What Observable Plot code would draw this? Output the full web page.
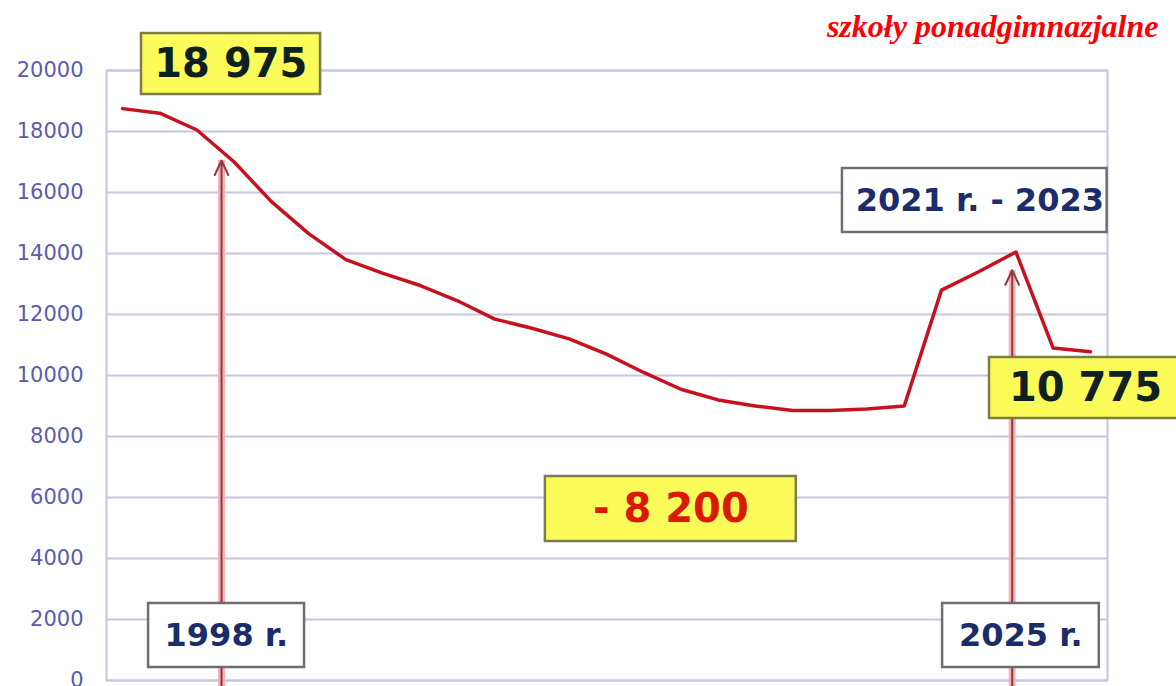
<!DOCTYPE html>
<html><head><meta charset="utf-8">
<script src="https://cdn.jsdelivr.net/npm/d3@7"></script>
<script src="https://cdn.jsdelivr.net/npm/@observablehq/plot@0.6"></script>
<style>body{margin:0;background:#fff;}</style>
</head><body><div id="chart"></div>
<script>
// ---- data ----
const years = [1998,1999,2000,2001,2002,2003,2004,2005,2006,2007,2008,2009,2010,2011,2012,2013,2014,2015,2016,2017,2018,2019,2020,2021,2022,2023,2024];
const values = [18750,18600,18050,17000,15700,14650,13800,13350,12950,12450,11850,11550,11200,10700,10100,9550,9200,9000,8850,8850,8900,9000,12800,13400,14050,10900,10775];
const yTicks = [0,2000,4000,6000,8000,10000,12000,14000,16000,18000,20000];
const title = "szkoły ponadgimnazjalne";

// annotation boxes (data coordinates: year, value)
const boxLabels = ["18 975", "- 8 200", "10 775", "2021 r. - 2023", "1998 r.", "2025 r."];
const boxKind   = ["yellow", "yellowRed", "yellow", "white", "white", "white"];
const boxX1 = [1998.51, 2009.36, 2021.29, 2017.34, 1998.70, 2020.03];
const boxX2 = [2003.32, 2016.10, 2026.44, 2024.45, 2002.89, 2024.24];
const boxY1 = [19213, 4557, 8590, 14689, 426, 426];
const boxY2 = [21213, 6689, 10590, 16787, 2525, 2525];
const textX = [2000.91, 2012.73, 2023.87, 2021.03, 2000.79, 2022.13];
const textY = [20213, 5623, 9590, 15738, 1475, 1475];

// arrows
const arrowX = [2000.66, 2021.90];
const arrowBase = [-300, -300];
const arrowTip = [17050, 13450];

// ---- chart ----
const idx = boxLabels.map((_, i) => i);
const isKind = k => i => boxKind[i] === k;
const yellowIdx = idx.filter(i => boxKind[i] !== "white");
const whiteIdx = idx.filter(isKind("white"));
const arrowIdx = arrowX.map((_, i) => i);

const chart = Plot.plot({
  width: 1176,
  height: 686,
  marginLeft: 106,
  marginRight: 69,
  marginTop: 70,
  marginBottom: 6,
  style: {background: "#fff", fontFamily: "DejaVu Sans"},
  x: {domain: [1997.57, 2024.46], axis: null},
  y: {domain: [0, 20000], axis: null},
  marks: [
    Plot.gridY(yTicks, {stroke: "#c6c6df", strokeOpacity: 1, strokeWidth: 2}),
    Plot.frame({stroke: "#c6c6df", strokeWidth: 2}),
    Plot.axisY(yTicks, {tickSize: 0, tickPadding: 23, fontSize: 21, color: "#5c5cae", tickFormat: d3.format("d"), fontFamily: "DejaVu Sans"}),
    // arrows: pink halo + dark core
    Plot.ruleX(arrowIdx, {x: i => arrowX[i], y1: i => arrowBase[i], y2: i => arrowTip[i], stroke: "#f6b0b6", strokeWidth: 7}),
    Plot.arrow(arrowIdx, {x1: i => arrowX[i], x2: i => arrowX[i], y1: i => arrowBase[i], y2: i => arrowTip[i], stroke: "#8e3b3e", strokeWidth: 2, headLength: 12, headAngle: 50}),
    // main line
    Plot.line(values, {x: years, y: values, stroke: "#c4121f", strokeWidth: 3.5}),
    // boxes
    Plot.rect(yellowIdx, {x1: i => boxX1[i], x2: i => boxX2[i], y1: i => boxY1[i], y2: i => boxY2[i], fill: "#fbfb5a", stroke: "#7d7d4c", strokeWidth: 2.5}),
    Plot.rect(whiteIdx, {x1: i => boxX1[i], x2: i => boxX2[i], y1: i => boxY1[i], y2: i => boxY2[i], fill: "#ffffff", stroke: "#6e6e6e", strokeWidth: 2.5}),
    Plot.text(idx.filter(isKind("yellow")), {x: i => textX[i], y: i => textY[i], text: i => boxLabels[i], fill: "#0f2020", fontSize: 40, fontWeight: "bold", fontFamily: "DejaVu Sans"}),
    Plot.text(idx.filter(isKind("yellowRed")), {x: i => textX[i], y: i => textY[i], text: i => boxLabels[i], fill: "#d91a00", fontSize: 40, fontWeight: "bold", fontFamily: "DejaVu Sans"}),
    Plot.text(whiteIdx, {x: i => textX[i], y: i => textY[i], text: i => boxLabels[i], fill: "#1b2c6c", fontSize: 32, fontWeight: "bold", fontFamily: "DejaVu Sans"}),
    // title
    Plot.text([title], {frameAnchor: "top-right", dx: 51, dy: -44, lineAnchor: "middle", textAnchor: "end", fill: "#ff0000", fontSize: 32, fontWeight: "bold", fontStyle: "italic", fontFamily: "Liberation Serif"})
  ]
});
document.getElementById("chart").appendChild(chart);
</script>
</body></html>
